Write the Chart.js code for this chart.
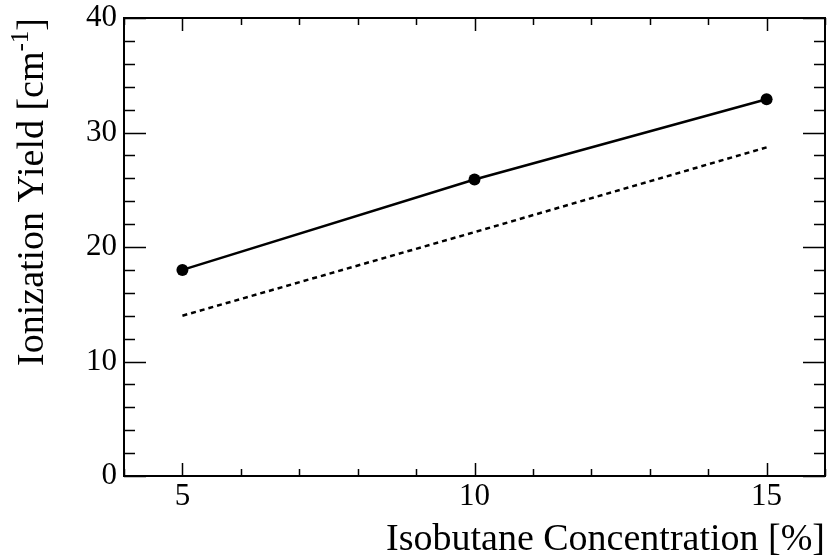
<!DOCTYPE html>
<html lang="en">
<head>
    <meta charset="UTF-8">
    <title>Ionization Yield vs Isobutane Concentration</title>
    <script src="https://cdn.jsdelivr.net/npm/chart.js"></script>
    <style>
        html, body {
            margin: 0;
            padding: 0;
            background-color: #fff;
        }
        #chart-box {
            width: 831px;
            height: 558px;
        }
    </style>
</head>
<body>
    <div id="chart-box">
        <canvas id="yieldChart"></canvas>
    </div>

    <script>
        // Values
        const concentrations = [5, 10, 15];          // isobutane [%]
        const measuredYield = [18.0, 25.9, 32.9];    // solid line with markers
        const expectedYield = [14.0, 21.3, 28.7];    // dashed line
        const xTickValues = [5, 10, 15];
        const yTickValues = [0, 10, 20, 30, 40];

        const serif = '"Liberation Serif", "DejaVu Serif", serif';

        // ROOT-style frame: black box with inward major/minor ticks on all four sides
        const frameTicks = {
            id: 'frameTicks',
            afterDatasetsDraw(chart) {
                const { ctx, chartArea: a, scales: { x, y } } = chart;
                ctx.save();
                ctx.strokeStyle = '#000';
                ctx.lineWidth = 2;
                ctx.strokeRect(a.left, a.top, a.right - a.left, a.bottom - a.top);

                ctx.lineWidth = 1.5;
                ctx.beginPath();
                for (let v = Math.ceil(x.min); v <= x.max; v++) {
                    const px = Math.round(x.getPixelForValue(v)) + 0.5;
                    const len = xTickValues.includes(v) ? 13 : 7;
                    ctx.moveTo(px, a.bottom); ctx.lineTo(px, a.bottom - len);
                    ctx.moveTo(px, a.top); ctx.lineTo(px, a.top + len);
                }
                for (let v = y.min; v <= y.max; v += 2) {
                    const py = Math.round(y.getPixelForValue(v)) + 0.5;
                    const len = yTickValues.includes(v) ? 22 : 11;
                    ctx.moveTo(a.left, py); ctx.lineTo(a.left + len, py);
                    ctx.moveTo(a.right, py); ctx.lineTo(a.right - len, py);
                }
                ctx.stroke();
                ctx.restore();
            }
        };

        // Axis titles drawn by hand so the y title can carry a superscript
        const axisTitles = {
            id: 'axisTitles',
            afterDraw(chart) {
                const { ctx, chartArea: a } = chart;
                ctx.save();
                ctx.fillStyle = '#000';

                ctx.font = '38px ' + serif;
                ctx.textAlign = 'right';
                ctx.textBaseline = 'alphabetic';
                ctx.fillText('Isobutane Concentration [%]', a.right, 550);

                // rotated y title, ending at the top of the frame
                const mainPart = 'Ionization Yield [cm';
                const supPart = '-1';
                const endPart = ']';
                ctx.translate(43, a.top);
                ctx.rotate(-Math.PI / 2);
                ctx.textAlign = 'left';
                ctx.font = '38px ' + serif;
                const wMain = ctx.measureText(mainPart).width;
                const wEnd = ctx.measureText(endPart).width;
                ctx.font = '25px ' + serif;
                const wSup = ctx.measureText(supPart).width;
                let pos = -(wMain + wSup + wEnd);
                ctx.font = '38px ' + serif;
                ctx.fillText(mainPart, pos, 0);
                pos += wMain;
                ctx.font = '25px ' + serif;
                ctx.fillText(supPart, pos, -15);
                pos += wSup;
                ctx.font = '38px ' + serif;
                ctx.fillText(endPart, pos, 0);
                ctx.restore();
            }
        };

        const ctx = document.getElementById('yieldChart').getContext('2d');

        new Chart(ctx, {
            type: 'line',
            data: {
                datasets: [
                    {
                        label: 'Measured',
                        data: concentrations.map((c, i) => ({ x: c, y: measuredYield[i] })),
                        borderColor: '#000',
                        backgroundColor: '#000',
                        borderWidth: 2.5,
                        pointRadius: 6,
                        pointHoverRadius: 6,
                        pointBackgroundColor: '#000',
                        pointBorderWidth: 0,
                        tension: 0
                    },
                    {
                        label: 'Expected',
                        data: concentrations.map((c, i) => ({ x: c, y: expectedYield[i] })),
                        borderColor: '#000',
                        borderWidth: 2.5,
                        borderDash: [5, 4],
                        pointRadius: 0,
                        tension: 0
                    }
                ]
            },
            options: {
                responsive: true,
                maintainAspectRatio: false,
                animation: false,
                events: [],
                layout: {
                    padding: { top: 18, right: 1, left: 0, bottom: 0 }
                },
                plugins: {
                    legend: { display: false },
                    tooltip: { enabled: false },
                    title: { display: false }
                },
                scales: {
                    x: {
                        type: 'linear',
                        min: 4,
                        max: 16,
                        afterBuildTicks: scale => {
                            scale.ticks = xTickValues.map(v => ({ value: v }));
                        },
                        afterFit: scale => {
                            scale.height = 82;
                            scale.paddingLeft = 0;
                            scale.paddingRight = 0;
                        },
                        grid: { display: false, drawTicks: false },
                        border: { display: false },
                        ticks: {
                            color: '#000',
                            padding: 5,
                            maxRotation: 0,
                            autoSkip: false,
                            font: { family: serif, size: 31, lineHeight: 1 }
                        }
                    },
                    y: {
                        min: 0,
                        max: 40,
                        afterBuildTicks: scale => {
                            scale.ticks = yTickValues.map(v => ({ value: v }));
                        },
                        afterFit: scale => {
                            scale.width = 124;
                            scale.paddingTop = 0;
                            scale.paddingBottom = 0;
                        },
                        grid: { display: false, drawTicks: false },
                        border: { display: false },
                        ticks: {
                            color: '#000',
                            padding: 7,
                            autoSkip: false,
                            font: { family: serif, size: 31, lineHeight: 1 }
                        }
                    }
                }
            },
            plugins: [frameTicks, axisTitles]
        });
    </script>
</body>
</html>
